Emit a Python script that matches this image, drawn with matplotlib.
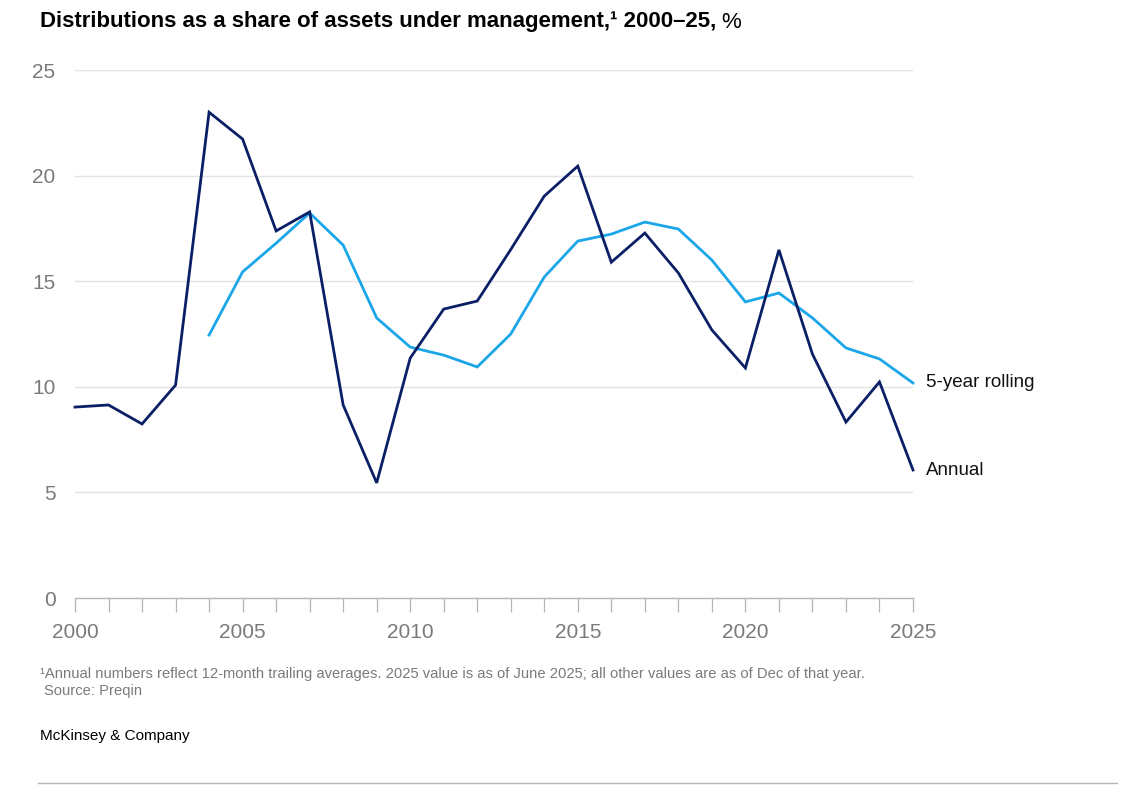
import numpy as np
import matplotlib.pyplot as plt
from matplotlib.lines import Line2D

# Datos
years = list(range(2000, 2026))
annual = [9.04, 9.14, 8.24, 10.08, 23.0, 21.73, 17.38, 18.28, 9.14, 5.45,
          11.36, 13.68, 14.06, 16.5, 19.03, 20.45, 15.9, 17.28, 15.39, 12.69,
          10.89, 16.48, 11.55, 8.33, 10.23, 6.06]
rolling_years = list(range(2004, 2026))
rolling = [12.45, 15.44, 16.8, 18.23, 16.71, 13.26, 11.88, 11.5, 10.94, 12.5,
           15.2, 16.9, 17.23, 17.8, 17.47, 16.0, 14.02, 14.44, 13.26, 11.84,
           11.32, 10.18]
y_ticks = [0, 5, 10, 15, 20, 25]
x_labels = [2000, 2005, 2010, 2015, 2020, 2025]

navy = '#0b1f66'
sky = '#1aa6e8'
grey = '#7a7a7a'

plt.rcParams['font.family'] = ['Liberation Sans', 'DejaVu Sans']

fig = plt.figure(figsize=(11.29, 7.99), dpi=100)
ax = fig.add_axes([75 / 1129, 1 - 598 / 799, (913 - 75) / 1129, (598 - 70) / 799])

# Líneas
ax.plot(years, annual, color=navy, lw=2.0, clip_on=False, zorder=3,
        solid_joinstyle='miter')
ax.plot(rolling_years, rolling, color=sky, lw=2.0, clip_on=False, zorder=2,
        solid_joinstyle='miter')

ax.set_xlim(2000, 2025)
ax.set_ylim(0, 25)

# Rejilla horizontal
for v in y_ticks[1:]:
    ax.axhline(v, color='#e3e3e3', lw=1.0, zorder=0)

for s in ['top', 'right', 'left']:
    ax.spines[s].set_visible(False)
ax.spines['bottom'].set_color('#b5b5b5')
ax.spines['bottom'].set_linewidth(1.0)

ax.set_xticks(years)
ax.set_xticklabels([str(y) if y in x_labels else '' for y in years])
ax.tick_params(axis='x', length=10, width=0.9, color='#b5b5b5', direction='out',
               labelsize=15, labelcolor=grey, pad=8)
ax.set_yticks(y_ticks)
ax.set_yticklabels([str(v) for v in y_ticks])
ax.tick_params(axis='y', length=0, labelsize=15, labelcolor=grey, pad=14)

# Etiquetas de series
ax.annotate('5-year rolling', (rolling_years[-1], rolling[-1]), xytext=(9, 0),
            textcoords='offset points', va='center', ha='left', fontsize=13.5,
            color='#111111', annotation_clip=False)
ax.annotate('Annual', (years[-1], annual[-1]), xytext=(9, 0),
            textcoords='offset points', va='center', ha='left', fontsize=13.5,
            color='#111111', annotation_clip=False)

# Título
t = fig.text(40 / 1129, 1 - 22 / 799,
             'Distributions as a share of assets under management,\u00b9 2000\u201325,',
             fontsize=16, fontweight='bold', va='center', ha='left', color='#000000')
fig.canvas.draw()
bb = t.get_window_extent()
fig.text((bb.x1 + 5) / 1129, 1 - 22 / 799, '%', fontsize=16, va='center',
         ha='left', color='#000000')

# Notas
fig.text(40 / 1129, 1 - 674 / 799,
         '\u00b9Annual numbers reflect 12-month trailing averages. 2025 value is as of '
         'June 2025; all other values are as of Dec of that year.',
         fontsize=10.6, color=grey, va='center', ha='left')
fig.text(44 / 1129, 1 - 691 / 799, 'Source: Preqin', fontsize=10.6, color=grey,
         va='center', ha='left')
fig.text(40 / 1129, 1 - 736 / 799, 'McKinsey & Company', fontsize=11,
         color='#000000', va='center', ha='left')

fig.add_artist(Line2D([38 / 1129, 1117 / 1129], [1 - 783 / 799, 1 - 783 / 799],
                      color='#b5b5b5', lw=1.0))

fig.savefig('out.png', dpi=100)
